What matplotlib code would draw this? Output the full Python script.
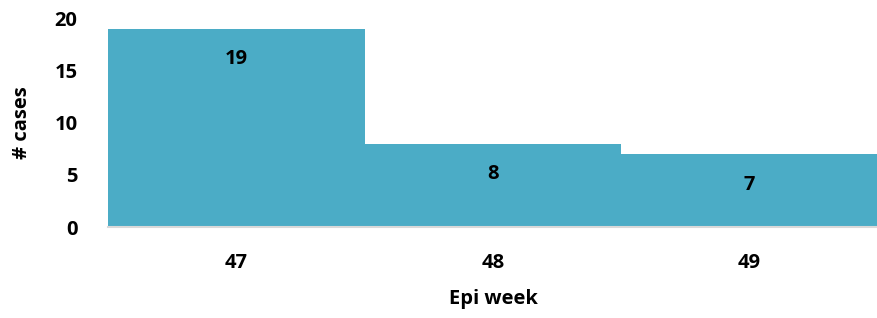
import matplotlib.pyplot as plt

# Datos
weeks = ["47", "48", "49"]
cases = [19, 8, 7]

plt.rcParams['font.family'] = ['Open Sans', 'DejaVu Sans']
plt.rcParams['font.weight'] = 'bold'

fig = plt.figure(figsize=(8.78, 3.18), dpi=100)
ax = fig.add_axes([0.123, 0.286, 0.877, 0.656])

x = range(len(weeks))
bars = ax.bar(x, cases, width=1.0, color='#4BACC6')

# Etiquetas de valor dentro de las barras
for xi, v in zip(x, cases):
    ax.annotate(str(v), (xi, v), xytext=(0, -22), textcoords='offset points',
                ha='center', va='center', fontsize=14.5, fontweight='bold', color='black')

ax.set_xlim(-0.5, len(weeks) - 0.5)
ax.set_ylim(0, 20)
ax.set_yticks([0, 5, 10, 15, 20])
ax.set_xticks(list(x))
ax.set_xticklabels(weeks)
ax.tick_params(axis='both', length=0, labelsize=14.5)
ax.tick_params(axis='x', pad=19)
ax.tick_params(axis='y', pad=22)

for s in ['top', 'right', 'left']:
    ax.spines[s].set_visible(False)
ax.spines['bottom'].set_color('#d9d9d9')
ax.spines['bottom'].set_linewidth(1.5)

ax.set_xlabel("Epi week", fontsize=14.5, fontweight='bold', labelpad=11)
ax.set_ylabel("# cases", fontsize=14.5, fontweight='bold', labelpad=16)

fig.savefig("out.png", dpi=100)
